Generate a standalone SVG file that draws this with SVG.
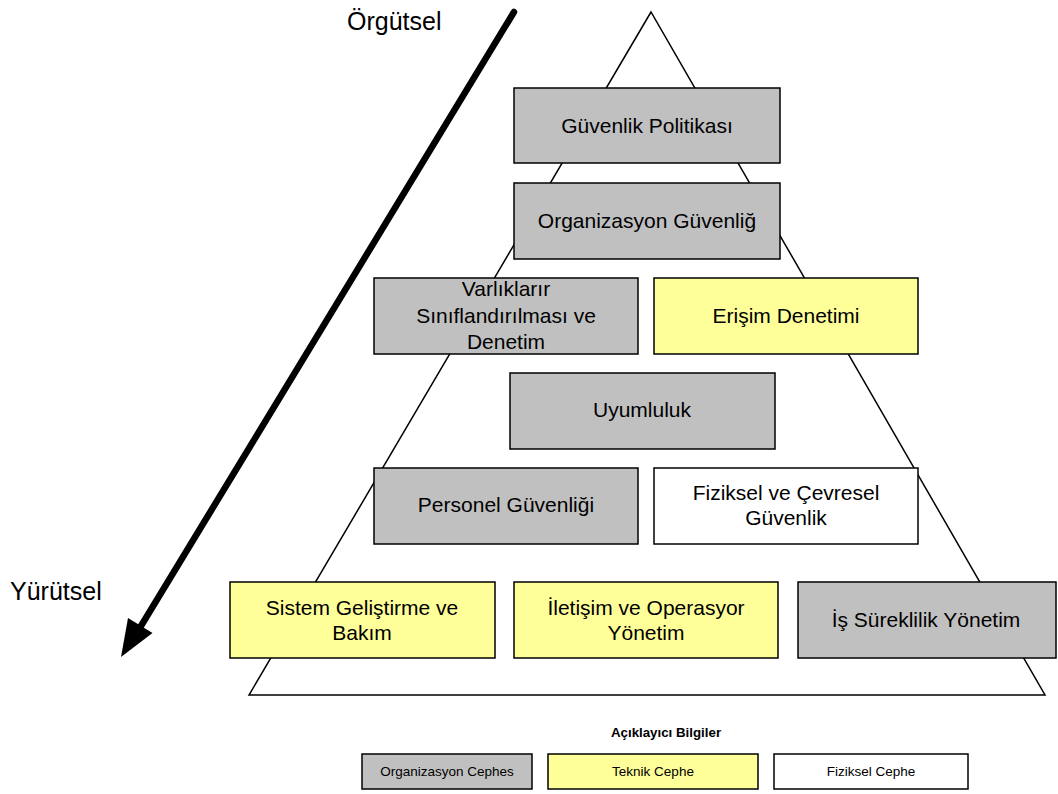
<svg xmlns="http://www.w3.org/2000/svg" width="1058" height="794" viewBox="0 0 1058 794">
  <defs>
    <style>
      .org { fill: #c0c0c0; stroke: #000; stroke-width: 1.5; }
      .tek { fill: #ffff99; stroke: #000; stroke-width: 1.5; }
      .fiz { fill: #ffffff; stroke: #000; stroke-width: 1.5; }
      .lbl { font-family: "Liberation Sans", Arial, sans-serif; font-size: 21px; fill: #000; text-anchor: middle; }
      .side { font-family: "Liberation Sans", Arial, sans-serif; font-size: 25px; fill: #000; }
      .leg { font-family: "Liberation Sans", Arial, sans-serif; font-size: 13.5px; fill: #000; text-anchor: middle; }
      .legt { font-family: "Liberation Sans", Arial, sans-serif; font-size: 13.3px; font-weight: bold; fill: #000; text-anchor: middle; }
    </style>
  </defs>
  <rect width="1058" height="794" fill="#fff"/>

  <!-- pyramid outline -->
  <polygon points="651,12 249,695 1045,695" fill="none" stroke="#000" stroke-width="1.5"/>

  <!-- direction arrow from organisational to executive level -->
  <g id="connectors">
    <line x1="514" y1="12" x2="141" y2="626" stroke="#000" stroke-width="6.5" stroke-linecap="round"/>
    <polygon points="121,657 152.5,633 128,618" fill="#000"/>
  </g>
  <text class="side" x="347" y="30">Örgütsel</text>
  <text class="side" x="10" y="600">Yürütsel</text>

  <g id="guvenlik-politikasi">
    <rect class="org" x="514" y="88" width="266" height="75"/>
    <text class="lbl" x="647" y="133">Güvenlik Politikası</text>
  </g>
  <g id="organizasyon-guvenligi">
    <rect class="org" x="514" y="183" width="266" height="76"/>
    <text class="lbl" x="647" y="228">Organizasyon Güvenliğ</text>
  </g>
  <g id="varliklar">
    <rect class="org" x="374" y="278" width="264" height="76"/>
    <text class="lbl" x="506" y="296">Varlıklarır</text>
    <text class="lbl" x="506" y="323">Sınıflandırılması ve</text>
    <text class="lbl" x="506" y="349">Denetim</text>
  </g>
  <g id="erisim-denetimi">
    <rect class="tek" x="654" y="278" width="264" height="76"/>
    <text class="lbl" x="786" y="323">Erişim Denetimi</text>
  </g>
  <g id="uyumluluk">
    <rect class="org" x="510" y="373" width="265" height="76"/>
    <text class="lbl" x="642" y="417">Uyumluluk</text>
  </g>
  <g id="personel-guvenligi">
    <rect class="org" x="374" y="468" width="264" height="76"/>
    <text class="lbl" x="506" y="512">Personel Güvenliği</text>
  </g>
  <g id="fiziksel-cevresel">
    <rect class="fiz" x="654" y="468" width="264" height="76"/>
    <text class="lbl" x="786" y="500">Fiziksel ve Çevresel</text>
    <text class="lbl" x="786" y="525">Güvenlik</text>
  </g>
  <g id="sistem-gelistirme">
    <rect class="tek" x="230" y="582" width="265" height="76"/>
    <text class="lbl" x="362" y="615">Sistem Geliştirme ve</text>
    <text class="lbl" x="362" y="640">Bakım</text>
  </g>
  <g id="iletisim-operasyon">
    <rect class="tek" x="514" y="582" width="264" height="76"/>
    <text class="lbl" x="646" y="615">İletişim ve Operasyor</text>
    <text class="lbl" x="646" y="640">Yönetim</text>
  </g>
  <g id="is-sureklilik">
    <rect class="org" x="798" y="582" width="258" height="76"/>
    <text class="lbl" x="926" y="627">İş Süreklilik Yönetim</text>
  </g>

  <!-- legend -->
  <g id="legend">
    <text class="legt" x="666" y="737">Açıklayıcı Bilgiler</text>
    <rect class="org" x="362" y="754" width="170" height="35"/>
    <text class="leg" x="447" y="776">Organizasyon Cephes</text>
    <rect class="tek" x="548" y="754" width="210" height="35"/>
    <text class="leg" x="653" y="776">Teknik Cephe</text>
    <rect class="fiz" x="774" y="754" width="194" height="35"/>
    <text class="leg" x="871" y="776">Fiziksel Cephe</text>
  </g>
</svg>
